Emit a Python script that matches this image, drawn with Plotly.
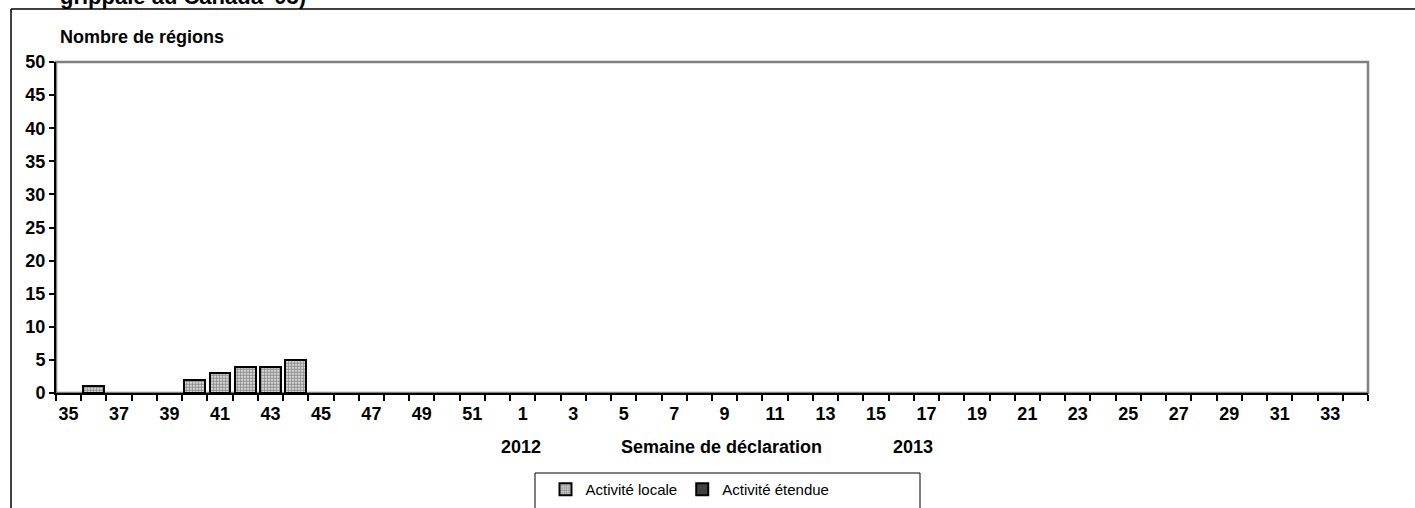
import plotly.graph_objects as go

weeks = [str(w) for w in list(range(35, 53)) + list(range(1, 35))]
locale = [0, 1, 0, 0, 0, 2, 3, 4, 4, 5] + [0] * 42
etendue = [0] * 52
tick_labels = [w if i % 2 == 0 else "" for i, w in enumerate(weeks)]

W, H = 1415, 508
L, R, T, B = 56, 1368, 62, 393          # plot area in image pixels
pw, ph = R - L, B - T


def px(x):
    return (x - L) / pw


def py(y):
    return (B - y) / ph


def cy(y):
    return (H - y) / H


fig = go.Figure()
fig.add_trace(go.Bar(
    x=weeks, y=[v if v else None for v in locale], name="Activité locale",
    marker=dict(color="white", line=dict(color="black", width=2),
                pattern=dict(shape=".", fgcolor="#222222", bgcolor="white", size=3, solidity=0.7)),
))
fig.add_trace(go.Bar(
    x=weeks, y=[v if v else None for v in etendue], name="Activité étendue",
    marker=dict(color="#404040", line=dict(color="black", width=2)),
))

bold = dict(family="Liberation Sans", size=18, color="black", weight="bold")

fig.update_layout(
    width=W, height=H,
    margin=dict(l=L, r=W - R, t=T, b=H - B, pad=0, autoexpand=False),
    barmode="stack", bargap=0.17,
    plot_bgcolor="white", paper_bgcolor="white",
    font=dict(family="Liberation Sans", color="black"),
    showlegend=True,
    legend=dict(orientation="h", x=px(690), xanchor="center",
                yref="container", y=cy(473), yanchor="top",
                traceorder="normal",
                font=dict(family="Liberation Sans", size=15, color="black"),
                bgcolor="rgba(0,0,0,0)", borderwidth=0, itemwidth=30,
                tracegroupgap=0),
    xaxis=dict(type="category", categoryorder="array", categoryarray=weeks,
               tickvals=weeks, ticktext=tick_labels, tickson="boundaries",
               ticks="outside", ticklen=6, tickwidth=1.5, tickcolor="black",
               showline=True, linecolor="black", linewidth=2,
               showgrid=False, tickangle=0, ticklabelstandoff=3,
               tickfont=bold, range=[-0.5, 51.5]),
    yaxis=dict(range=[0, 50], dtick=5, ticks="outside", ticklen=5, tickwidth=1.5,
               tickcolor="black", showline=True, linecolor="black", linewidth=2,
               showgrid=False, zeroline=False, tickfont=bold, ticklabelstandoff=0),
    shapes=[
        dict(type="rect", xref="paper", yref="paper", x0=0, x1=1, y0=0, y1=1,
             line=dict(color="#808080", width=2.5), layer="below"),
        dict(type="line", xref="paper", yref="paper", x0=px(11), x1=px(11), y0=py(9), y1=py(530),
             line=dict(color="black", width=1.5)),
        dict(type="line", xref="paper", yref="paper", x0=px(11), x1=px(1440), y0=py(9), y1=py(9),
             line=dict(color="black", width=1.5)),
        dict(type="rect", xref="paper", yref="paper", x0=px(535), x1=px(920), y0=py(473), y1=py(530),
             line=dict(color="black", width=1), fillcolor="rgba(0,0,0,0)"),
    ],
    annotations=[
        dict(text="grippale au Canada ʹ03)", xref="paper", yref="paper",
             x=px(58), y=py(11), xanchor="left", yanchor="bottom", showarrow=False,
             font=dict(family="Liberation Sans", size=22, color="black", weight="bold")),
        dict(text="Nombre de régions", xref="paper", yref="paper",
             x=px(58), y=py(37), xanchor="left", yanchor="middle", showarrow=False, font=bold),
        dict(text="2012", xref="paper", yref="paper",
             x=px(521), y=py(447), xanchor="center", yanchor="middle", showarrow=False, font=bold),
        dict(text="Semaine de déclaration", xref="paper", yref="paper",
             x=px(722), y=py(447), xanchor="center", yanchor="middle", showarrow=False, font=bold),
        dict(text="2013", xref="paper", yref="paper",
             x=px(913), y=py(447), xanchor="center", yanchor="middle", showarrow=False, font=bold),
    ],
)

fig.write_html("out.html", config={"displayModeBar": False},
               post_script="document.body.style.margin='0';")
